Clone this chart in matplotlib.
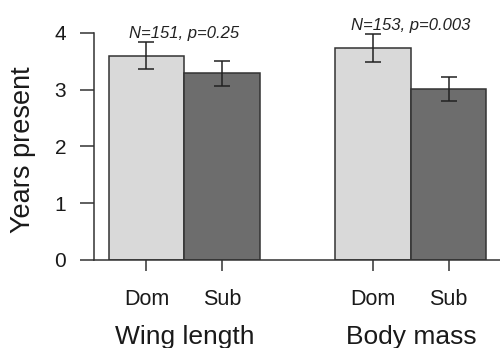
import matplotlib
matplotlib.use("Agg")
import matplotlib.pyplot as plt

plt.rcParams['font.family'] = ['Liberation Sans', 'DejaVu Sans']

groups = ["Wing length", "Body mass"]
categories = ["Dom", "Sub"]
dom_means = [3.60, 3.73]
sub_means = [3.29, 3.01]
dom_err = [0.235, 0.245]
sub_err = [0.22, 0.21]
annotations = ["N=151, p=0.25", "N=153, p=0.003"]
yticks = [0, 1, 2, 3, 4]
ylabel = "Years present"

light = "#d9d9d9"
dark = "#6d6d6d"
edge = "#333333"
txt = "#1a1a1a"

fig = plt.figure(figsize=(5.0, 3.48), dpi=100)
ax = fig.add_axes([0.188, 0.2529, 0.812, 0.7175])

group_start = [1, 4]
positions = []
labels = []
for gi, g in enumerate(groups):
    xd = group_start[gi]
    xs = xd + 1
    ax.bar(xd, dom_means[gi], width=1.0, color=light, edgecolor=edge, linewidth=1.1, zorder=2)
    ax.bar(xs, sub_means[gi], width=1.0, color=dark, edgecolor=edge, linewidth=1.1, zorder=2)
    ax.errorbar([xd, xs], [dom_means[gi], sub_means[gi]], yerr=[dom_err[gi], sub_err[gi]],
                fmt='none', ecolor="#222222", elinewidth=1.1, capsize=6, capthick=1.1,
                zorder=3, clip_on=False)
    top = max(dom_means[gi] + dom_err[gi], sub_means[gi] + sub_err[gi])
    ax.text((xd + xs) / 2, top + 0.07, annotations[gi], ha='center', va='baseline',
            fontsize=12, style='italic', color="#222222")
    positions += [xd, xs]
    labels += categories
    ax.annotate(g, xy=((xd + xs) / 2, 0), xycoords=('data', 'figure fraction'),
                xytext=(0, 4), textcoords='offset pixels', ha='center', va='baseline',
                fontsize=19, color=txt, annotation_clip=False)

ax.set_xlim(0.305, 5.68)
ax.set_ylim(0, 4.4)
ax.set_xticks(positions)
ax.set_xticklabels(labels, fontsize=15.5, color=txt)
ax.set_yticks(yticks)
ax.set_yticklabels([str(t) for t in yticks], fontsize=15, color=txt)
ax.tick_params(axis='y', length=10, width=1.1, pad=10, colors="#333333", labelcolor=txt)
ax.tick_params(axis='x', length=8, width=1.1, pad=13, colors="#333333", labelcolor=txt)

for s in ['top', 'right']:
    ax.spines[s].set_visible(False)
ax.spines['left'].set_bounds(0, 4)
for s in ['left', 'bottom']:
    ax.spines[s].set_linewidth(1.1)
    ax.spines[s].set_color("#333333")

fig.text(0.046, 1 - 150 / 348, ylabel, rotation=90, ha='center', va='center',
         fontsize=19.5, color=txt)

fig.savefig("out.png", dpi=100)
